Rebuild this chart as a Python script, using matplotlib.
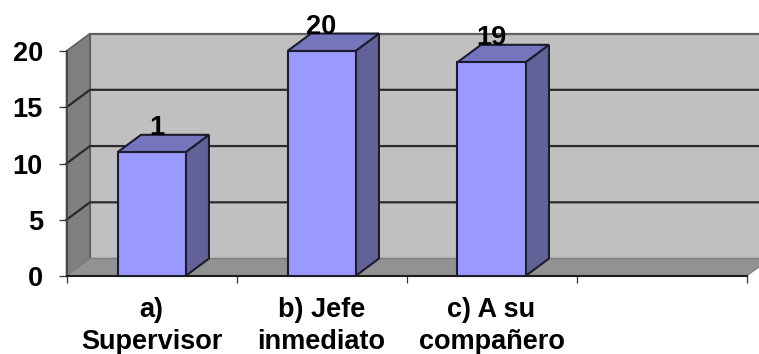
#!/usr/bin/env python3
"""
Column chart with a 3D look, drawn with plain polygons on a 2D axes
"""

import matplotlib
matplotlib.use('Agg')
import matplotlib.pyplot as plt
from matplotlib.patches import Polygon

plt.rcParams['font.family'] = ['Liberation Sans', 'DejaVu Sans']

categories = ['a)\nSupervisor', 'b) Jefe\ninmediato', 'c) A su\ncompañero', '']
values = [11, 20, 19]
value_labels = ['1', '20', '19']
y_ticks = [0, 5, 10, 15, 20]

# depth of the fake perspective, in data units
DX = 0.138
DY = 1.55
BAR_WIDTH = 0.4
EDGE = '#1c1c2c'
FONT_SIZE = 19.5


def draw_bar(ax, center, value):
    """Front, top and side faces of one column"""
    x0 = center - BAR_WIDTH / 2
    x1 = center + BAR_WIDTH / 2
    front = [(x0, 0), (x1, 0), (x1, value), (x0, value)]
    top = [(x0, value), (x1, value), (x1 + DX, value + DY), (x0 + DX, value + DY)]
    side = [(x1, 0), (x1 + DX, DY), (x1 + DX, value + DY), (x1, value)]
    ax.add_patch(Polygon(side, fc='#626299', ec=EDGE, lw=1.5, zorder=3, clip_on=False))
    ax.add_patch(Polygon(top, fc='#7575bd', ec=EDGE, lw=1.5, zorder=3, clip_on=False))
    ax.add_patch(Polygon(front, fc='#9999ff', ec=EDGE, lw=1.5, zorder=4, clip_on=False))


def main():
    fig = plt.figure(figsize=(7.59, 3.54), dpi=100)
    ax = fig.add_axes([66.5 / 759, (354 - 276) / 354, 680 / 759, 225 / 354])
    n = len(categories)
    ymax = max(y_ticks)
    ax.set_xlim(0, n)
    ax.set_ylim(0, ymax)
    ax.patch.set_alpha(0)
    for spine in ax.spines.values():
        spine.set_visible(False)

    # walls and floor
    ax.add_patch(Polygon([(DX, DY), (n + DX, DY), (n + DX, ymax + DY), (DX, ymax + DY)],
                         fc='#c0c0c0', ec='#606060', lw=1.6, zorder=1, clip_on=False))
    ax.add_patch(Polygon([(0, 0), (DX, DY), (DX, ymax + DY), (0, ymax)],
                         fc='#808080', ec='#606060', lw=1.2, zorder=1, clip_on=False))
    ax.add_patch(Polygon([(0, 0), (n, 0), (n + DX, DY), (DX, DY)],
                         fc='#929292', ec='#808080', lw=1.0, zorder=1, clip_on=False))

    # gridlines run along the left wall and then across the back wall
    for t in y_ticks[1:-1]:
        ax.plot([0, DX, n + DX], [t, t + DY, t + DY], color='#2a2a2a', lw=1.6,
                zorder=2, clip_on=False)

    # axis lines
    ax.plot([0, 0], [0, ymax], color='#444444', lw=1.3, zorder=2, clip_on=False)
    ax.plot([0, n], [0, 0], color='#1c1c1c', lw=1.5, zorder=2, clip_on=False)

    for i, v in enumerate(values):
        draw_bar(ax, i + 0.5, v)

    ax.set_yticks(y_ticks)
    ax.set_xticks(range(n + 1))
    ax.set_xticklabels([])
    ax.set_xticks([i + 0.5 for i in range(n)], minor=True)
    ax.set_xticklabels(categories, minor=True, fontsize=FONT_SIZE, fontweight='bold',
                       linespacing=1.3)
    ax.tick_params(axis='y', length=6, width=0.9, color='#333333', pad=11,
                   labelsize=FONT_SIZE)
    ax.tick_params(axis='x', which='major', length=5, width=0.9, color='#333333')
    ax.tick_params(axis='x', which='minor', length=0, pad=15)
    for lab in ax.get_yticklabels():
        lab.set_fontweight('bold')

    # value labels sit on the rear edge of each column top
    label_shift = [5, 0, 0]
    for i, (v, txt) in enumerate(zip(values, value_labels)):
        ax.annotate(txt, (i + 0.5, v + DY), xytext=(label_shift[i], 0),
                    textcoords='offset pixels', ha='center', va='baseline',
                    fontsize=FONT_SIZE, fontweight='bold', zorder=5, annotation_clip=False)

    fig.savefig('out.png', dpi=100, facecolor='white')
    plt.close(fig)


if __name__ == '__main__':
    main()
